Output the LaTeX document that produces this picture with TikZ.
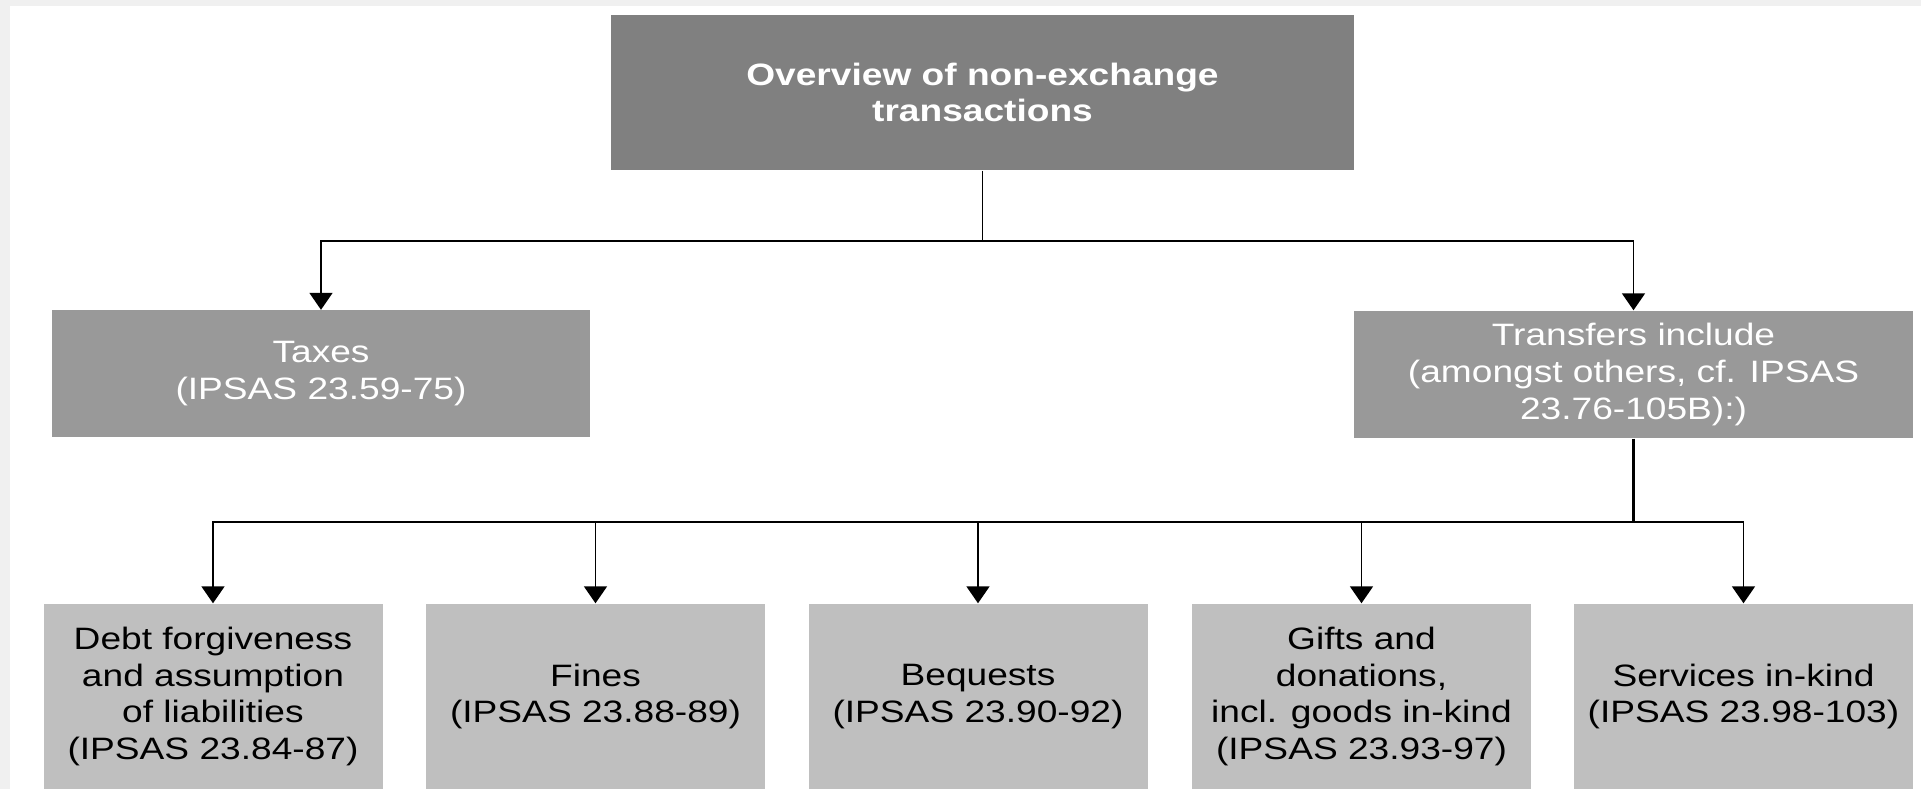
\documentclass[tikz,border=0pt]{standalone}
\usepackage{fontspec}
\setmainfont{Liberation Sans}[FakeStretch=1.2]
\usetikzlibrary{arrows.meta}
\begin{document}
\begin{tikzpicture}[y=-1cm,
  box/.style={inner sep=0pt,align=center,font=\fontsize{8.8}{10.5}\selectfont},
  topbox/.style={box,fill=black!50,text=white,minimum width=7.43cm,minimum height=1.55cm,font=\fontsize{8.8}{10.5}\selectfont\bfseries},
  midbox/.style={box,fill=black!40,text=white,minimum height=1.27cm},
  lowbox/.style={box,fill=black!25,text=black,minimum width=3.39cm,minimum height=1.85cm},
  arr/.style={line width=0.55pt,-{Triangle[width=0.23cm,length=0.17cm]}}]
\useasboundingbox (0,0) rectangle (19.21,7.89);
% 背景
\fill[black!6] (0,0) rectangle (19.21,7.89);
\fill[white] (0.10,0.06) rectangle (19.21,7.89);
% 上段
\node[topbox] (overview) at (9.825,0.925) {Overview of non-exchange\\transactions};
% 中段
\node[midbox,minimum width=5.38cm] (taxes) at (3.21,3.74) {Taxes\\(IPSAS 23.59-75)};
\node[midbox,minimum width=5.59cm] (transfers) at (16.335,3.745) {Transfers include\\(amongst others, cf. IPSAS\\23.76-105B):)};
% 下段
\node[lowbox] (debt) at (2.13,6.965) {Debt forgiveness\\and assumption\\of liabilities\\(IPSAS 23.84-87)};
\node[lowbox] (fines) at (5.955,6.965) {Fines\\(IPSAS 23.88-89)};
\node[lowbox] (bequests) at (9.78,6.965) {Bequests\\(IPSAS 23.90-92)};
\node[lowbox] (gifts) at (13.615,6.965) {Gifts and\\donations,\\incl. goods in-kind\\(IPSAS 23.93-97)};
\node[lowbox] (services) at (17.435,6.965) {Services in-kind\\(IPSAS 23.98-103)};
% 矢印
\coordinate (split1) at (9.825,2.41);
\draw[line width=0.55pt] (overview.south) -- (split1);
\draw[arr] (split1) -| (taxes.north);
\draw[arr] (split1) -| (transfers.north);
\coordinate (split2) at (16.335,5.22);
\draw[line width=0.75pt] (transfers.south) -- (split2);
\foreach \n in {debt,fines,bequests,gifts,services}
  \draw[arr] (split2) -| (\n.north);
\draw[line width=0.75pt] (split2) -- (debt.north |- split2);
\end{tikzpicture}
\end{document}
